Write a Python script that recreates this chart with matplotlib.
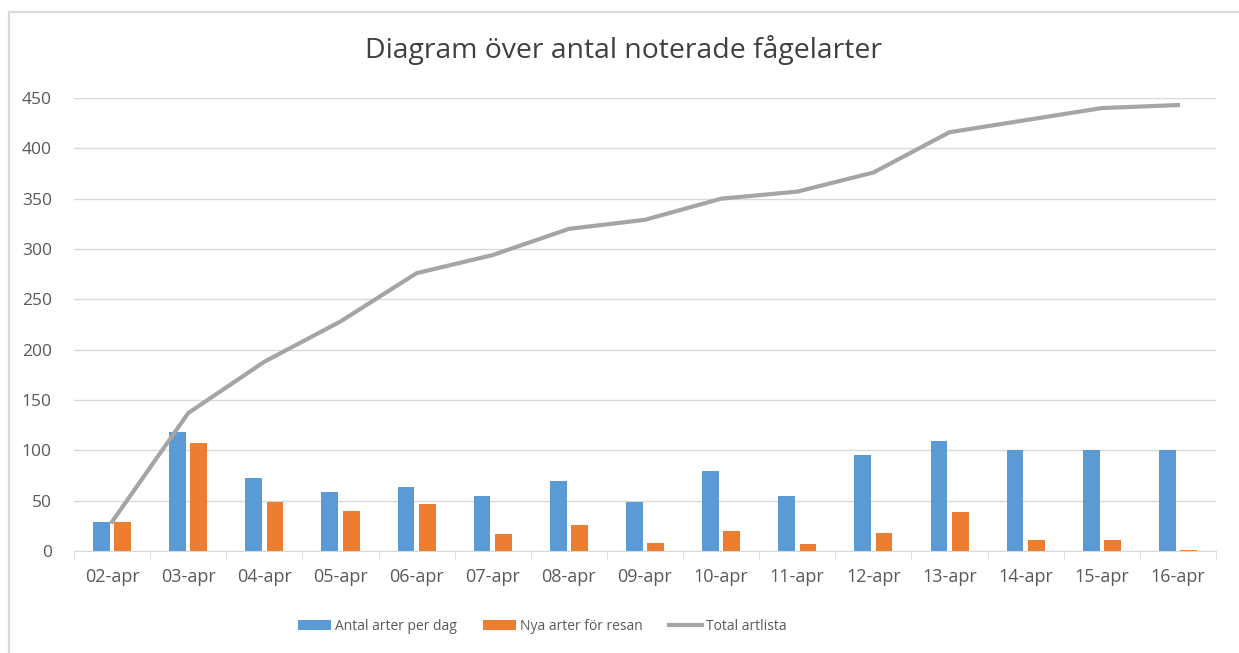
import numpy as np
import matplotlib.pyplot as plt
from matplotlib.lines import Line2D

# Data
dagar = ['02-apr', '03-apr', '04-apr', '05-apr', '06-apr', '07-apr', '08-apr', '09-apr',
         '10-apr', '11-apr', '12-apr', '13-apr', '14-apr', '15-apr', '16-apr']
arter_per_dag = [29, 118, 73, 59, 64, 55, 70, 49, 79, 55, 95, 109, 100, 100, 100]
nya_arter = [29, 107, 49, 40, 47, 17, 26, 8, 20, 7, 18, 39, 11, 11, 1]
total_artlista = [29, 137, 188, 228, 276, 294, 320, 329, 350, 357, 376, 416, 428, 440, 443]

plt.rcParams['font.family'] = ['Open Sans', 'DejaVu Sans']

fig = plt.figure(figsize=(12.39, 6.53), dpi=100)
ax = fig.add_axes([74 / 1239, 1 - 551 / 653, (1216 - 74) / 1239, (551 - 98) / 653])

x = np.arange(len(dagar))
bredd = 0.22
b1 = ax.bar(x - 0.14, arter_per_dag, bredd, color='#5b9bd5', label='Antal arter per dag', zorder=2)
b2 = ax.bar(x + 0.14, nya_arter, bredd, color='#ed7d31', label='Nya arter för resan', zorder=2)
l1, = ax.plot(x, total_artlista, color='#a5a5a5', linewidth=3, label='Total artlista', zorder=3)

ax.set_xlim(-0.5, len(dagar) - 0.5)
ax.set_ylim(0, 450)
ax.set_yticks(range(0, 451, 50))
ax.set_xticks(x)
ax.set_xticklabels(dagar)
ax.yaxis.grid(True, color='#d9d9d9', linewidth=1, zorder=0)
ax.set_axisbelow(True)

for s in ['top', 'right', 'left']:
    ax.spines[s].set_visible(False)
ax.spines['bottom'].set_color('#d9d9d9')

# category separators on the x axis
ax.set_xticks(np.arange(-0.5, len(dagar), 1), minor=True)
ax.tick_params(axis='x', which='minor', length=6, color='#d9d9d9')
ax.tick_params(axis='x', which='major', length=0, pad=12, labelsize=13, labelcolor='#595959')
ax.tick_params(axis='y', length=0, pad=16, labelsize=12.5, labelcolor='#595959')

fig.text(0.503, 1 - 50 / 653, 'Diagram över antal noterade fågelarter',
         ha='center', va='center', fontsize=20.4, color='#404040')

fig.legend([b1, b2, l1], ['Antal arter per dag', 'Nya arter för resan', 'Total artlista'],
           loc='center', bbox_to_anchor=(542 / 1239, 1 - 626 / 653), ncol=3, frameon=False,
           fontsize=10, labelcolor='#595959', handlelength=2.4, handleheight=0.7,
           columnspacing=1.9, handletextpad=0.25)

# chart area border (top and left edges visible in the crop)
kx = 9 / 1239
ky = 1 - 12 / 653
fig.add_artist(Line2D([kx, 1], [ky, ky], transform=fig.transFigure, color='#d9d9d9', linewidth=1.6))
fig.add_artist(Line2D([kx, kx], [0, ky], transform=fig.transFigure, color='#d9d9d9', linewidth=1.6))

fig.savefig('out.png', dpi=100)
